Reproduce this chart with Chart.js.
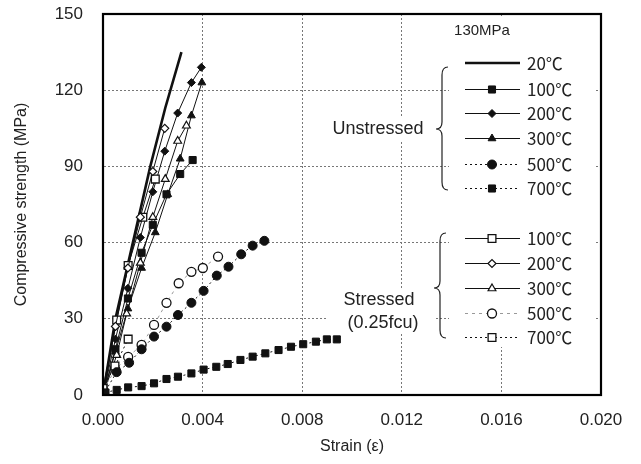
<!DOCTYPE html>
<html><head><meta charset="utf-8">
<script src="https://cdn.jsdelivr.net/npm/chart.js@4/dist/chart.umd.min.js"></script>
<style>html,body{margin:0;padding:0;background:#fff}</style>
</head><body>
<canvas id="c" width="641" height="464"></canvas>
<script>
// ---- data (strain, MPa) ----
const xTickValues = [0, 0.004, 0.008, 0.012, 0.016, 0.020];
const yTickValues = [0, 30, 60, 90, 120, 150];
const groupTitle = "130MPa";
const unstressedLabels = ["20℃", "100℃", "200℃", "300℃", "500℃", "700℃"];
const stressedLabels = ["100℃", "200℃", "300℃", "500℃", "700℃"];

const u20 = [[0,0],[0.0005,30],[0.0012,60],[0.0019,90],[0.0025,113],[0.00315,135]];
const u100 = [[0,0],[0.0005,18],[0.0010,38],[0.00155,56],[0.0020,67],[0.00255,79],[0.0031,87],[0.0036,92.5]];
const u200 = [[0,0],[0.0005,22],[0.0010,42],[0.0015,62],[0.0020,80],[0.00248,96],[0.0030,111],[0.00355,123],[0.00395,129]];
const u300 = [[0,0],[0.0005,17],[0.0010,34],[0.00155,50],[0.0021,64],[0.0026,79],[0.0031,93],[0.00355,110],[0.00397,123]];
const u500 = [[0,0],[0.00055,9],[0.00105,12.7],[0.00155,18],[0.00205,23],[0.00255,26.9],[0.00301,31.5],[0.00355,36.3],[0.00404,41],[0.00457,47],[0.00504,50.5],[0.00555,55.4],[0.00601,58.8],[0.00648,60.7]];
const u700 = [[0.0001,1],[0.00055,2],[0.00101,3],[0.00155,3.5],[0.00205,4.6],[0.00255,6.3],[0.00301,7.2],[0.00355,8.5],[0.00404,10],[0.00455,11.1],[0.00501,12.2],[0.00552,13.8],[0.00601,15.1],[0.00652,16.4],[0.00705,17.7],[0.00755,19],[0.00804,20],[0.00855,21],[0.00899,21.9],[0.00939,21.9]];
const s100 = [[0,2.6],[0.00055,29.5],[0.00101,51],[0.0016,70],[0.0021,85]];
const s200 = [[0,0],[0.0005,27],[0.0010,50],[0.0015,70],[0.0020,88],[0.00248,105]];
const s300 = [[0,0],[0.00055,15.7],[0.00095,32],[0.0015,52],[0.0020,70],[0.0025,85],[0.0030,100],[0.00335,106]];
const s500 = [[0,2],[0.0005,10],[0.00101,15],[0.00155,19.7],[0.00205,27.6],[0.00255,36.3],[0.00304,44],[0.00355,48.5],[0.00401,50],[0.00462,54.5]];
const s700 = [[0,2.6],[0.00048,11.4],[0.00101,22]];

const toXY = a => a.map(p => ({x:p[0], y:p[1]}));
const FONT = "'Liberation Sans', Arial, sans-serif";
const LFONT = "'Noto Sans CJK JP', 'Liberation Sans', sans-serif";

function ds(label, data, o){
  return Object.assign({label, data: toXY(data), borderColor:'#111', backgroundColor:'#111',
    borderWidth:1, pointRadius:0, pointBorderColor:'#111', pointBackgroundColor:'#111',
    pointBorderWidth:1, tension:0, fill:false, showLine:true}, o);
}
const datasets = [
  ds('U 700℃', u700, {borderDash:[2,3], pointStyle:'rect', pointRadius:5}),
  ds('U 500℃', u500, {borderDash:[2,3], pointStyle:'circle', pointRadius:4.5}),
  ds('S 700℃', s700, {borderDash:[2,3], pointStyle:'rect', pointRadius:5.5, pointBackgroundColor:'#fff', pointBorderWidth:1.3}),
  ds('S 500℃', s500, {borderColor:'#999', borderDash:[3,4], pointStyle:'circle', pointRadius:4.5, pointBackgroundColor:'#fff', pointBorderWidth:1.3}),
  ds('S 300℃', s300, {pointStyle:'triangle', pointRadius:4.5, pointBackgroundColor:'#fff', pointBorderWidth:1.2}),
  ds('S 200℃', s200, {pointStyle:'rectRot', pointRadius:4, pointBackgroundColor:'#fff', pointBorderWidth:1.2}),
  ds('S 100℃', s100, {pointStyle:'rect', pointRadius:5.5, pointBackgroundColor:'#fff', pointBorderWidth:1.3}),
  ds('U 300℃', u300, {pointStyle:'triangle', pointRadius:4.5}),
  ds('U 200℃', u200, {pointStyle:'rectRot', pointRadius:4}),
  ds('U 100℃', u100, {pointStyle:'rect', pointRadius:5}),
  ds('U 20℃', u20, {borderWidth:2.6, pointRadius:0})
];
const byLabel = l => datasets.find(d => d.label === l);

function brace(ctx, endX, midX, tipX, top, bottom, tipY){
  ctx.beginPath();
  ctx.moveTo(endX, top);
  ctx.quadraticCurveTo(midX, top, midX, top+8);
  ctx.lineTo(midX, tipY-7);
  ctx.quadraticCurveTo(midX, tipY, tipX, tipY);
  ctx.quadraticCurveTo(midX, tipY, midX, tipY+7);
  ctx.lineTo(midX, bottom-8);
  ctx.quadraticCurveTo(midX, bottom, endX, bottom);
  ctx.strokeStyle = '#222'; ctx.lineWidth = 1.2; ctx.setLineDash([]);
  ctx.stroke();
}
function sample(ctx, d, y){
  ctx.save();
  ctx.beginPath();
  const yy = d.borderWidth > 2 ? y : y + 0.5;
  ctx.moveTo(465, yy); ctx.lineTo(520, yy);
  ctx.strokeStyle = d.borderColor; ctx.lineWidth = d.borderWidth;
  ctx.setLineDash(d.borderDash || []);
  ctx.stroke();
  ctx.setLineDash([]);
  if (d.pointRadius > 0) {
    ctx.fillStyle = d.pointBackgroundColor; ctx.strokeStyle = d.pointBorderColor;
    ctx.lineWidth = d.pointBorderWidth;
    Chart.helpers.drawPoint(ctx, {pointStyle:d.pointStyle, rotation:0, radius:d.pointRadius, borderWidth:d.pointBorderWidth}, 492, y + 0.5);
  }
  ctx.restore();
}

const legendPlugin = {
  id: 'legendCustom',
  beforeDatasetsDraw(chart){
    const ctx = chart.ctx;
    ctx.save();
    ctx.fillStyle = '#fff';
    ctx.fillRect(449, 17, 146, 330);
    ctx.fillRect(324, 118, 108, 22);
    ctx.fillRect(326, 288, 108, 46);
    ctx.restore();
  },
  afterDraw(chart){
    const ctx = chart.ctx;
    const a = chart.chartArea;
    ctx.save();
    ctx.strokeStyle = '#000'; ctx.lineWidth = 2.2; ctx.setLineDash([]);
    ctx.strokeRect(a.left, a.top, a.right - a.left, a.bottom - a.top);
    ctx.fillStyle = '#222';
    ctx.font = "15px " + FONT;
    ctx.textAlign = 'center'; ctx.textBaseline = 'middle';
    ctx.fillText(groupTitle, 482, 31);
    ctx.font = "18px " + FONT;
    ctx.fillText('Unstressed', 378, 129);
    ctx.fillText('Stressed', 379, 300);
    ctx.fillText('(0.25fcu)', 383, 323);
    brace(ctx, 448, 442, 436, 67, 190, 129);
    brace(ctx, 446, 440, 434, 233, 338, 288);
    const uY = [63, 89, 113, 138, 164, 188];
    const uKeys = ['U 20℃','U 100℃','U 200℃','U 300℃','U 500℃','U 700℃'];
    const sY = [238, 263, 288, 313, 337];
    const sKeys = ['S 100℃','S 200℃','S 300℃','S 500℃','S 700℃'];
    uKeys.forEach((k,i) => {
      sample(ctx, byLabel(k), uY[i]);
      ctx.fillStyle = '#222'; ctx.font = "17px " + LFONT; ctx.textAlign='left'; ctx.textBaseline='middle';
      ctx.fillText(unstressedLabels[i], 527, uY[i] + 1);
    });
    sKeys.forEach((k,i) => {
      sample(ctx, byLabel(k), sY[i]);
      ctx.fillStyle = '#222'; ctx.font = "17px " + LFONT; ctx.textAlign='left'; ctx.textBaseline='middle';
      ctx.fillText(stressedLabels[i], 527, sY[i] + 1);
    });
    ctx.restore();
  }
};

new Chart(document.getElementById('c'), {
  type: 'scatter',
  data: { datasets },
  options: {
    responsive: false, animation: false, devicePixelRatio: 1,
    layout: { padding: { top: 0, right: 40, left: 0, bottom: 0 } },
    plugins: { legend: { display: false }, tooltip: { enabled: false } },
    scales: {
      x: {
        type: 'linear', min: 0, max: 0.02,
        afterBuildTicks: s => { s.ticks = xTickValues.map(v => ({value: v})); },
        afterFit: s => { s.height = 69; },
        grid: { color: ctx => (ctx.tick && (ctx.tick.value === 0 || ctx.tick.value === 0.02)) ? 'rgba(0,0,0,0)' : '#777', lineWidth: 1, drawTicks: false },
        border: { display: true, color: '#000', width: 2, dash: [2, 2] },
        ticks: { padding: 15, color: '#222', font: { family: FONT, size: 17 }, maxRotation: 0,
                 callback: v => Number(v).toFixed(3) },
        title: { display: true, text: 'Strain (ε)', color: '#222', font: { family: FONT, size: 16 }, padding: { top: 4, bottom: 8 } }
      },
      y: {
        type: 'linear', min: 0, max: 150,
        afterBuildTicks: s => { s.ticks = yTickValues.map(v => ({value: v})); },
        afterFit: s => { s.width = 103; s.paddingTop = 14; s.paddingBottom = 0; },
        grid: { color: ctx => (ctx.tick && (ctx.tick.value === 0 || ctx.tick.value === 150)) ? 'rgba(0,0,0,0)' : '#777', lineWidth: 1, drawTicks: false },
        border: { display: true, color: '#000', width: 2, dash: [2, 2] },
        ticks: { padding: 20, color: '#222', font: { family: FONT, size: 17 } },
        title: { display: true, text: 'Compressive strength (MPa)', color: '#222', font: { family: FONT, size: 16 }, padding: { top: 12, bottom: 0 } }
      }
    }
  },
  plugins: [legendPlugin]
});
</script>
</body></html>
